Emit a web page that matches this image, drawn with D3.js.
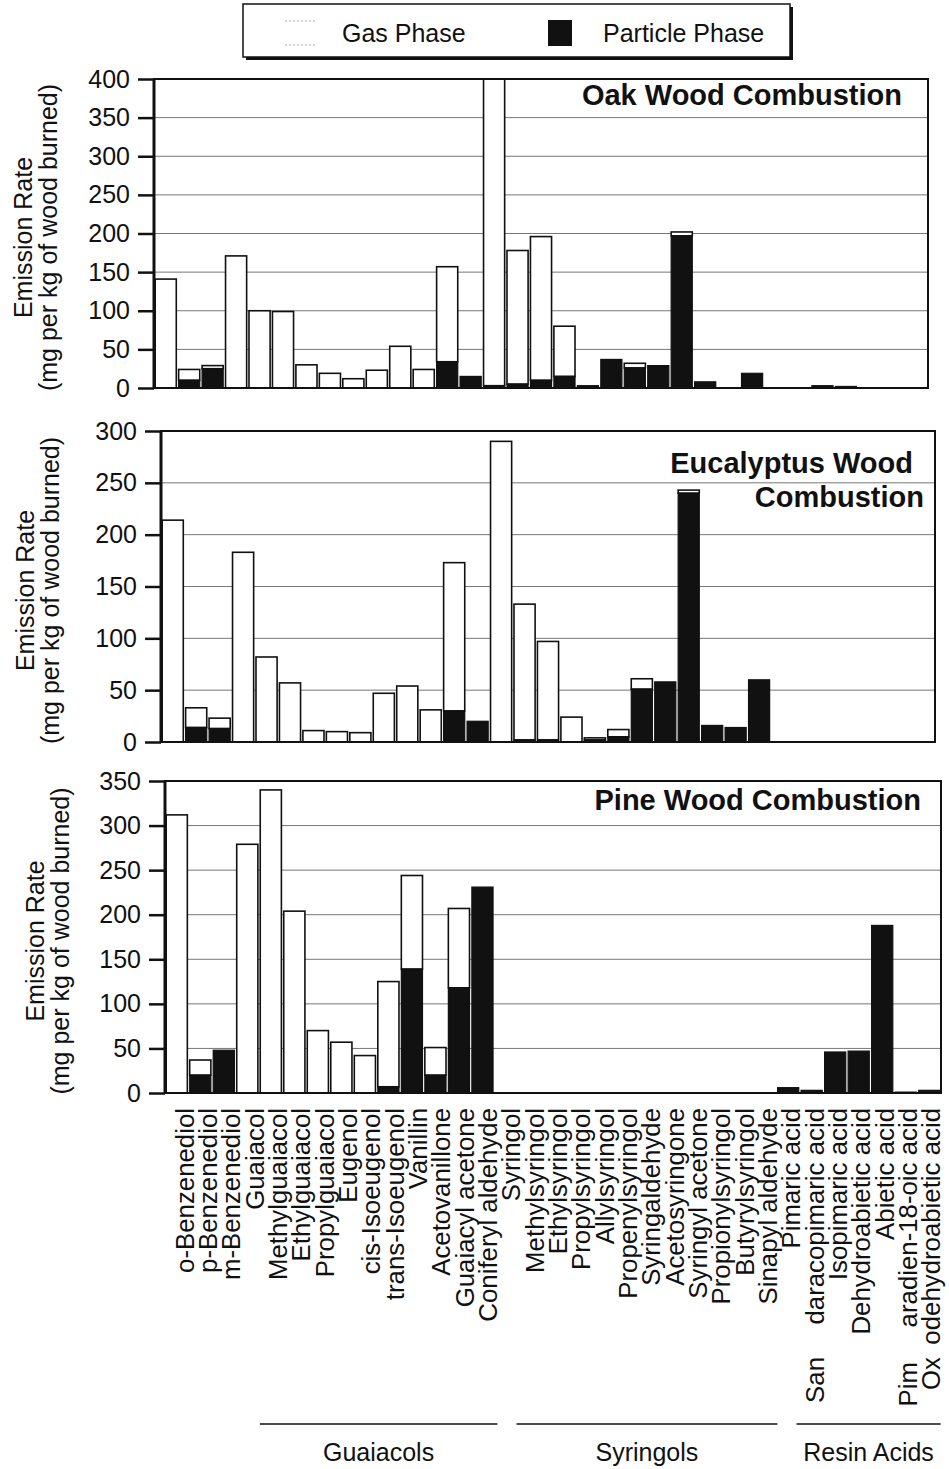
<!DOCTYPE html>
<html>
<head>
<meta charset="utf-8">
<script src="https://cdn.jsdelivr.net/npm/d3@7"></script>
<style>
  body { margin: 0; background: #fff; }
  svg text { font-family: "Liberation Sans", Arial, Helvetica, sans-serif; fill: #111; }
</style>
</head>
<body>
<svg id="chart" width="949" height="1469"></svg>
<script>
// ---- data -------------------------------------------------------------
const categories = [
  "o-Benzenediol", "p-Benzenediol", "m-Benzenediol", "Guaiacol", "Methylguaiacol",
  "Ethylguaiacol", "Propylguaiacol", "Eugenol", "cis-Isoeugenol", "trans-Isoeugenol",
  "Vanillin", "Acetovanillone", "Guaiacyl acetone", "Coniferyl aldehyde", "Syringol",
  "Methylsyringol", "Ethylsyringol", "Propylsyringol", "Allylsyringol", "Propenylsyringol",
  "Syringaldehyde", "Acetosyringone", "Syringyl acetone", "Propionylsyringol", "Butyrylsyringol",
  "Sinapyl aldehyde", "Pimaric acid", "Sandaracopimaric acid", "Isopimaric acid",
  "Dehydroabietic acid", "Abietic acid", "Pimaradien-18-oic acid", "Oxodehydroabietic acid"
];

// emission rates, mg per kg of wood burned
const oakParticle = [0, 10, 25, 0, 0, 0, 0, 0, 0, 0, 0, 0, 34, 15, 3, 5, 10, 15, 3, 37, 26, 29, 197, 8, 0, 19, 0, 0, 3, 2, 0, 0, 0];
const oakGas      = [141, 14, 4, 171, 100, 99, 30, 19, 12, 23, 54, 24, 123, 0, 415, 173, 186, 65, 0, 0, 6, 0, 5, 0, 0, 0, 0, 0, 0, 0, 0, 0, 0];

const eucParticle = [0, 14, 13, 0, 0, 0, 0, 0, 0, 0, 0, 0, 30, 20, 0, 2, 2, 0, 2, 5, 51, 58, 240, 16, 14, 60, 0, 0, 0, 0, 0, 0, 0];
const eucGas      = [214, 19, 10, 183, 82, 57, 11, 10, 9, 47, 54, 31, 143, 0, 290, 131, 95, 24, 2, 7, 10, 0, 3, 0, 0, 0, 0, 0, 0, 0, 0, 0, 0];

const pineParticle = [0, 20, 48, 0, 0, 0, 0, 0, 0, 7, 139, 20, 118, 231, 0, 0, 0, 0, 0, 0, 0, 0, 0, 0, 0, 0, 6, 3, 46, 47, 188, 1, 3];
const pineGas      = [312, 17, 0, 279, 340, 204, 70, 57, 42, 118, 105, 31, 89, 0, 0, 0, 0, 0, 0, 0, 0, 0, 0, 0, 0, 0, 0, 0, 0, 0, 0, 0, 0];

const oakTicks  = [0, 50, 100, 150, 200, 250, 300, 350, 400];
const eucTicks  = [0, 50, 100, 150, 200, 250, 300];
const pineTicks = [0, 50, 100, 150, 200, 250, 300, 350];

const oakTitle  = ["Oak Wood Combustion"];
const eucTitle  = ["Eucalyptus Wood", "Combustion"];
const pineTitle = ["Pine Wood Combustion"];

const yTitleLines = ["Emission Rate", "(mg per kg of wood burned)"];
const legendLabels = ["Gas Phase", "Particle Phase"];

const groupNames = ["Guaiacols", "Syringols", "Resin Acids"];
const groupFirst = [3, 14, 26];
const groupLast  = [13, 25, 32];

// ---- layout -----------------------------------------------------------
const panels = [
  { particle: oakParticle, gas: oakGas, ticks: oakTicks, title: oakTitle,
    left: 154, right: 928, top: 79, bottom: 388,
    titleX: [902], titleY: [105], yTitleX: 32, tickGap: 24 },
  { particle: eucParticle, gas: eucGas, ticks: eucTicks, title: eucTitle,
    left: 161, right: 935, top: 431, bottom: 742,
    titleX: [913, 924], titleY: [473, 507], yTitleX: 34, tickGap: 24 },
  { particle: pineParticle, gas: pineGas, ticks: pineTicks, title: pineTitle,
    left: 165, right: 941, top: 781, bottom: 1093,
    titleX: [921], titleY: [810], yTitleX: 44, tickGap: 24 }
];

const labelRange = [173, 943];
const labelTop = 1108;
// a few long names are broken apart in the label row
const splitLabels = {
  "Sandaracopimaric acid": { head: "San", tail: "daracopimaric acid", headEnd: 1357 },
  "Pimaradien-18-oic acid": { head: "Pim", tail: "aradien-18-oic acid", headEnd: 1362 },
  "Oxodehydroabietic acid": { head: "Ox", tail: "odehydroabietic acid", headEnd: 1357 }
};

const FONT = 25;
const LABEL_FONT = 25.8;
const INK = "#111";
const svg = d3.select("#chart");

// ---- legend -----------------------------------------------------------
const legend = svg.append("g");
legend.append("rect").attr("x", 246).attr("y", 7).attr("width", 547).attr("height", 53).attr("fill", INK);
legend.append("rect").attr("x", 243).attr("y", 4).attr("width", 547).attr("height", 53)
  .attr("fill", "#fff").attr("stroke", INK).attr("stroke-width", 1.5);
legend.append("rect").attr("x", 285).attr("y", 21).attr("width", 31).attr("height", 24).attr("fill", "#fff");
[21, 45].forEach(yy => legend.append("line").attr("x1", 285).attr("x2", 316).attr("y1", yy).attr("y2", yy)
  .attr("stroke", "#aaa").attr("stroke-width", 1).attr("stroke-dasharray", "2,2"));
legend.append("rect").attr("x", 548).attr("y", 20).attr("width", 24).attr("height", 26).attr("fill", INK);
legend.append("text").attr("x", 342).attr("y", 42).attr("font-size", FONT).text(legendLabels[0]);
legend.append("text").attr("x", 603).attr("y", 42).attr("font-size", FONT).text(legendLabels[1]);

// ---- panels -----------------------------------------------------------
panels.forEach((p, pi) => {
  const maxV = p.ticks[p.ticks.length - 1];
  const x = d3.scaleBand().domain(categories).range([p.left, p.right])
    .paddingInner(0.1).paddingOuter(0.05);
  const y = d3.scaleLinear().domain([0, maxV]).range([p.bottom, p.top]);
  const g = svg.append("g");

  const clipId = "clip" + pi;
  svg.append("clipPath").attr("id", clipId).append("rect")
    .attr("x", p.left).attr("y", p.top).attr("width", p.right - p.left).attr("height", p.bottom - p.top);

  // gridlines
  g.selectAll("line.grid").data(p.ticks.filter(t => t > 0 && t < maxV)).join("line")
    .attr("class", "grid")
    .attr("x1", p.left).attr("x2", p.right)
    .attr("y1", d => y(d)).attr("y2", d => y(d))
    .attr("stroke", "#777").attr("stroke-width", 1);

  const rows = categories.map((c, i) => ({ c, part: p.particle[i], gas: p.gas[i] }));
  const bars = g.append("g").attr("clip-path", `url(#${clipId})`);

  // gas phase sits on top of the particle phase
  bars.selectAll("rect.gas").data(rows.filter(d => d.gas > 0)).join("rect")
    .attr("class", "gas")
    .attr("x", d => x(d.c)).attr("width", x.bandwidth())
    .attr("y", d => y(d.part + d.gas)).attr("height", d => y(d.part) - y(d.part + d.gas))
    .attr("fill", "#fff").attr("stroke", INK).attr("stroke-width", 1.6);

  bars.selectAll("rect.part").data(rows.filter(d => d.part > 0)).join("rect")
    .attr("class", "part")
    .attr("x", d => x(d.c)).attr("width", x.bandwidth())
    .attr("y", d => y(d.part)).attr("height", d => y(0) - y(d.part))
    .attr("fill", INK).attr("stroke", INK).attr("stroke-width", 1.2);

  // frame
  g.append("rect").attr("x", p.left).attr("y", p.top)
    .attr("width", p.right - p.left).attr("height", p.bottom - p.top)
    .attr("fill", "none").attr("stroke", INK).attr("stroke-width", 2);
  g.append("line").attr("x1", p.left).attr("x2", p.left).attr("y1", p.top).attr("y2", p.bottom)
    .attr("stroke", INK).attr("stroke-width", 3);

  // y axis
  const axis = d3.axisLeft(y).tickValues(p.ticks).tickSize(16).tickPadding(p.tickGap - 16)
    .tickFormat(d3.format("d"));
  const ax = g.append("g").attr("transform", `translate(${p.left},0)`).call(axis);
  ax.select(".domain").remove();
  ax.selectAll(".tick line").attr("stroke", INK).attr("stroke-width", 2.5);
  ax.selectAll(".tick text").attr("font-size", FONT)
    .attr("font-family", "'Liberation Sans', Arial, sans-serif").attr("fill", INK);

  // y title
  const cy = (p.top + p.bottom) / 2 + 4;
  const yt = g.append("g").attr("transform", `translate(0,${cy}) rotate(-90)`);
  yTitleLines.forEach((t, k) => {
    yt.append("text").attr("x", 0).attr("y", p.yTitleX + k * 25)
      .attr("text-anchor", "middle").attr("font-size", FONT).text(t);
  });

  // panel title
  p.title.forEach((t, k) => {
    g.append("text").attr("x", p.titleX[k]).attr("y", p.titleY[k])
      .attr("text-anchor", "end").attr("font-size", 29).attr("font-weight", "bold").text(t);
  });
});

// ---- category labels --------------------------------------------------
const xl = d3.scaleBand().domain(categories).range(labelRange);
const labels = svg.append("g");
categories.forEach(c => {
  const cx = xl(c) + xl.bandwidth() / 2;
  const s = splitLabels[c];
  const put = (txt, yEnd) => labels.append("text")
    .attr("transform", `translate(${cx},${yEnd}) rotate(-90)`)
    .attr("text-anchor", "end").attr("dy", "0.35em").attr("font-size", LABEL_FONT).text(txt);
  if (s) {
    put(s.tail, labelTop);
    put(s.head, s.headEnd);
  } else {
    put(c, labelTop);
  }
});

// ---- compound groups --------------------------------------------------
const bw = xl.bandwidth();
groupNames.forEach((name, i) => {
  const x1 = xl(categories[groupFirst[i]]) + 0.72 * bw;
  const x2 = xl(categories[groupLast[i]]) + 0.9 * bw;
  svg.append("line").attr("x1", x1).attr("x2", x2).attr("y1", 1424).attr("y2", 1424)
    .attr("stroke", INK).attr("stroke-width", 1.5);
  svg.append("text").attr("x", (x1 + x2) / 2).attr("y", 1461)
    .attr("text-anchor", "middle").attr("font-size", FONT).text(name);
});
</script>
</body>
</html>
